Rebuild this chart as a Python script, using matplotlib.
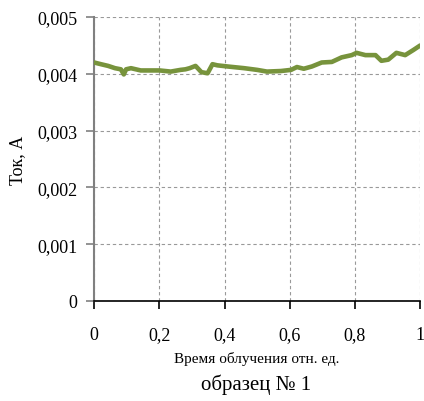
import matplotlib
matplotlib.use("Agg")
import matplotlib.pyplot as plt

x_vals = [0.0, 0.021, 0.043, 0.064, 0.082, 0.091, 0.098, 0.113, 0.143, 0.174,
          0.201, 0.235, 0.265, 0.280, 0.293, 0.311, 0.329, 0.348, 0.363, 0.378,
          0.409, 0.460, 0.500, 0.530, 0.573, 0.604, 0.622, 0.643, 0.668, 0.698,
          0.729, 0.759, 0.790, 0.805, 0.832, 0.863, 0.881, 0.902, 0.927, 0.954,
          0.979, 1.0]
current = [4.20, 4.17, 4.14, 4.10, 4.08, 3.99, 4.08, 4.10, 4.06, 4.06,
           4.06, 4.04, 4.07, 4.08, 4.10, 4.14, 4.03, 4.01, 4.17, 4.15,
           4.13, 4.10, 4.07, 4.04, 4.05, 4.07, 4.12, 4.09, 4.13, 4.20,
           4.21, 4.29, 4.33, 4.37, 4.33, 4.33, 4.23, 4.25, 4.37, 4.33,
           4.42, 4.50]
current = [v * 1e-3 for v in current]

x_ticks = [0, 0.2, 0.4, 0.6, 0.8, 1.0]
x_tick_labels = ["0", "0,2", "0,4", "0,6", "0,8", "1"]
y_ticks = [0, 0.001, 0.002, 0.003, 0.004, 0.005]
y_tick_labels = ["0", "0,001", "0,002", "0,003", "0,004", "0,005"]

plt.rcParams['font.family'] = ['Liberation Serif', 'DejaVu Serif']

fig = plt.figure(figsize=(4.24, 4.02), dpi=100)
ax = fig.add_axes([0.222, 0.249, 0.769, 0.706])

ax.plot(x_vals, current, color='#77933C', lw=3.3, solid_capstyle='round',
        solid_joinstyle='round', zorder=3)

ax.set_xlim(0, 1)
ax.set_ylim(0, 0.005)
ax.set_xticks(x_ticks)
ax.set_xticklabels(x_tick_labels, fontsize=13)
ax.set_yticks(y_ticks)
ax.set_yticklabels(y_tick_labels, fontsize=13)

ax.grid(True, linestyle=(0, (3, 2.5)), color='#999999', lw=0.8)
for s in ['top', 'right']:
    ax.spines[s].set_visible(False)
ax.spines['left'].set_color('#808080')
ax.spines['left'].set_linewidth(1.5)
ax.spines['bottom'].set_color('black')
ax.spines['bottom'].set_linewidth(1.2)
ax.tick_params(axis='y', direction='out', length=6, color='#808080', width=1.2, pad=6)
ax.tick_params(axis='x', direction='out', length=6, color='black', width=1.2, pad=12)

ax.set_ylabel("Ток, А", fontsize=13, labelpad=8)
ax.set_xlabel("Время облучения отн. ед.", fontsize=11, labelpad=6)
fig.text(0.605, 0.042, "образец № 1", fontsize=15, ha='center', va='center')

fig.savefig("out.png", dpi=100)
